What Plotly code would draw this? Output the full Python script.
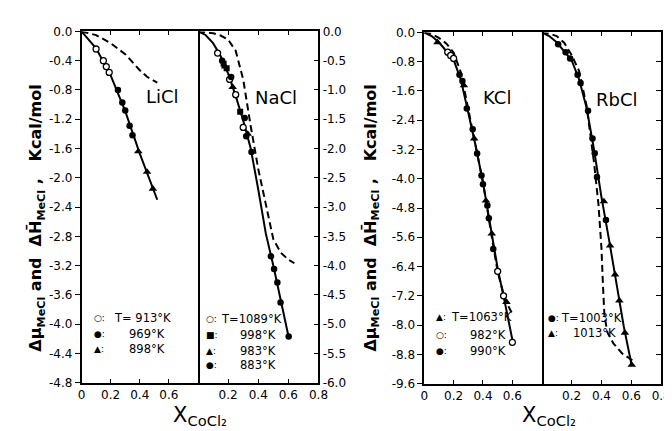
import plotly.graph_objects as go

W, H = 672, 431

# ---------------- data ----------------
# LiCl
li_line_x = [0, 0.1, 0.2, 0.3, 0.4, 0.52]
li_line_y = [0, -0.23, -0.6, -1.09, -1.67, -2.3]
li_dash_x = [0, 0.1, 0.2, 0.3, 0.35, 0.4, 0.45, 0.52]
li_dash_y = [0, -0.05, -0.16, -0.31, -0.42, -0.53, -0.62, -0.70]
li_913_x = [0.10, 0.15, 0.17, 0.19]
li_913_y = [-0.24, -0.40, -0.48, -0.56]
li_969_x = [0.25, 0.28, 0.30, 0.33, 0.35]
li_969_y = [-0.80, -0.97, -1.08, -1.29, -1.42]
li_898_x = [0.39, 0.45, 0.49]
li_898_y = [-1.64, -1.92, -2.15]

# NaCl
na_line_x = [0, 0.05, 0.1, 0.15, 0.2, 0.25, 0.3, 0.35, 0.4, 0.45, 0.5, 0.55, 0.6]
na_line_y = [0, -0.06, -0.2, -0.42, -0.72, -1.1, -1.52, -2.0, -2.7, -3.45, -4.0, -4.63, -5.2]
na_dash_x = [0, 0.1, 0.15, 0.2, 0.25, 0.3, 0.35, 0.4, 0.45, 0.5, 0.55, 0.6, 0.64]
na_dash_y = [0, -0.03, -0.07, -0.14, -0.33, -0.82, -1.62, -2.35, -2.95, -3.55, -3.78, -3.9, -3.96]
na_1089_x = [0.13, 0.21, 0.25, 0.30]
na_1089_y = [-0.37, -0.82, -1.08, -1.64]
na_998_x = [0.17, 0.19, 0.28]
na_998_y = [-0.55, -0.63, -1.37]
na_983_x = [0.18, 0.23, 0.33]
na_983_y = [-0.60, -0.95, -1.75]
na_883_x = [0.16, 0.22, 0.31, 0.32, 0.355, 0.484, 0.505, 0.527, 0.548, 0.602]
na_883_y = [-0.50, -0.78, -1.48, -1.79, -2.06, -3.84, -4.06, -4.29, -4.63, -5.21]

# KCl
k_line_x = [0, 0.05, 0.1, 0.15, 0.2, 0.25, 0.3, 0.35, 0.4, 0.45, 0.5, 0.55, 0.6]
k_line_y = [0, -0.1, -0.27, -0.5, -0.75, -1.3, -2.2, -3.1, -4.1, -5.3, -6.45, -7.4, -8.4]
k_dash_x = [0, 0.05, 0.1, 0.15, 0.2, 0.25, 0.3, 0.35, 0.4, 0.45, 0.5, 0.55, 0.6]
k_dash_y = [0, -0.04, -0.15, -0.3, -0.55, -1.1, -2.1, -3.1, -4.1, -5.35, -6.55, -7.3, -7.7]
k_1063_x = [0.09, 0.27, 0.34, 0.42, 0.46, 0.56]
k_1063_y = [-0.27, -1.45, -2.9, -4.6, -5.5, -7.37]
k_982_x = [0.16, 0.18, 0.20, 0.50, 0.54, 0.60]
k_982_y = [-0.54, -0.63, -0.71, -6.53, -7.2, -8.47]
k_990_x = [0.24, 0.26, 0.29, 0.33, 0.36, 0.39, 0.40, 0.43, 0.44, 0.47]
k_990_y = [-1.16, -1.33, -2.08, -2.65, -3.31, -3.91, -4.15, -4.73, -5.08, -5.92]

# RbCl
rb_line_x = [0, 0.05, 0.1, 0.15, 0.2, 0.25, 0.3, 0.35, 0.4, 0.45, 0.5, 0.55, 0.6]
rb_line_y = [0, -0.1, -0.27, -0.5, -0.76, -1.28, -2.05, -3.2, -4.5, -5.65, -6.85, -8.05, -9.05]
rb_dash_x = [0, 0.05, 0.1, 0.15, 0.2, 0.25, 0.3, 0.35, 0.38, 0.4, 0.41, 0.42, 0.44, 0.48, 0.54, 0.62]
rb_dash_y = [0, -0.03, -0.1, -0.28, -0.62, -1.05, -2.0, -3.55, -4.7, -5.9, -6.9, -7.75, -8.2, -8.5, -8.78, -9.0]
rb_1003_x = [0.11, 0.16, 0.19, 0.24, 0.26, 0.31, 0.34, 0.355, 0.37, 0.43]
rb_1003_y = [-0.32, -0.54, -0.71, -1.16, -1.38, -2.14, -2.9, -3.3, -3.95, -5.13]
rb_1013_x = [0.416, 0.458, 0.491, 0.52, 0.557, 0.603]
rb_1013_y = [-4.62, -5.83, -6.62, -7.33, -8.21, -9.09]

# tick labels
left_y_vals = [-0.4 * i for i in range(13)]
left_y_text = ["0.0", "-0.4", "-0.8", "-1.2", "-1.6", "-2.0", "-2.4", "-2.8",
               "-3.2", "-3.6", "-4.0", "-4.4", "-4.8"]
na_y_vals = [-0.5 * i for i in range(13)]
na_y_text = ["0.0", "-0.5", "-1.0", "-1.5", "-2.0", "-2.5", "-3.0", "-3.5",
             "-4.0", "-4.5", "-5.0", "-5.5", "-6.0"]
k_y_vals = [-0.8 * i for i in range(13)]
k_y_text = ["0.0", "-0.8", "-1.6", "-2.4", "-3.2", "-4.0", "-4.8", "-5.6",
            "-6.4", "-7.2", "-8.0", "-8.8", "-9.6"]
x_left_vals = [0, 0.2, 0.4, 0.6]
x_left_text = ["0", "0.2", "0.4", "0.6"]
x_right_vals = [0.2, 0.4, 0.6, 0.8]
x_right_text = ["0.2", "0.4", "0.6", "0.8"]

# ---------------- figure ----------------
FONT = "DejaVu Sans"
fig = go.Figure()

def add_panel(k, lx, ly, dx, dy, marker_sets):
    xa = "x" if k == 1 else f"x{k}"
    ya = "y" if k == 1 else f"y{k}"
    fig.add_trace(go.Scatter(x=dx, y=dy, mode="lines", xaxis=xa, yaxis=ya,
                             line=dict(color="black", width=2, dash="7px,4px"),
                             showlegend=False, hoverinfo="skip"))
    fig.add_trace(go.Scatter(x=lx, y=ly, mode="lines", xaxis=xa, yaxis=ya,
                             line=dict(color="black", width=2),
                             showlegend=False, hoverinfo="skip"))
    for mx, my, kind in marker_sets:
        if kind == "open":
            m = dict(symbol="circle", size=6, color="white", line=dict(color="black", width=1.3))
        elif kind == "fill":
            m = dict(symbol="circle", size=6.5, color="black")
        elif kind == "tri":
            m = dict(symbol="triangle-up", size=7.5, color="black")
        else:
            m = dict(symbol="square", size=6, color="black")
        fig.add_trace(go.Scatter(x=mx, y=my, mode="markers", xaxis=xa, yaxis=ya,
                                 marker=m, showlegend=False, hoverinfo="skip"))

add_panel(1, li_line_x, li_line_y, li_dash_x, li_dash_y,
          [(li_913_x, li_913_y, "open"), (li_969_x, li_969_y, "fill"), (li_898_x, li_898_y, "tri")])
add_panel(2, na_line_x, na_line_y, na_dash_x, na_dash_y,
          [(na_1089_x, na_1089_y, "open"), (na_998_x, na_998_y, "sq"),
           (na_983_x, na_983_y, "tri"), (na_883_x, na_883_y, "fill")])
add_panel(3, k_line_x, k_line_y, k_dash_x, k_dash_y,
          [(k_1063_x, k_1063_y, "tri"), (k_982_x, k_982_y, "open"), (k_990_x, k_990_y, "fill")])
add_panel(4, rb_line_x, rb_line_y, rb_dash_x, rb_dash_y,
          [(rb_1003_x, rb_1003_y, "fill"), (rb_1013_x, rb_1013_y, "tri")])

def px_x(a, b):
    return [a / W, b / W]

def px_y(top, bottom):
    return [1 - bottom / H, 1 - top / H]

tickfont = dict(family=FONT, size=12, color="black")
common_x = dict(range=[0, 0.8], showgrid=False, zeroline=False, showline=True,
                linecolor="black", linewidth=1.5, mirror="ticks", ticks="inside",
                ticklen=4, tickwidth=1.3, tickcolor="black", tickfont=tickfont)
common_y = dict(showgrid=False, zeroline=False, showline=True, linecolor="black",
                linewidth=1.5, tickwidth=1.3, tickcolor="black",
                ticklen=5, tickfont=tickfont)

layout_axes = dict(
    xaxis=dict(common_x, domain=px_x(71, 190), anchor="y",
               tickvals=x_left_vals, ticktext=x_left_text),
    xaxis2=dict(common_x, domain=px_x(190, 313), anchor="y2",
                tickvals=x_right_vals, ticktext=x_right_text),
    xaxis3=dict(common_x, domain=px_x(421, 541), anchor="y3",
                tickvals=x_left_vals, ticktext=x_left_text),
    xaxis4=dict(common_x, domain=px_x(541, 663), anchor="y4",
                tickvals=x_right_vals, ticktext=x_right_text),
    yaxis=dict(common_y, domain=px_y(17, 380), anchor="x", range=[-4.8, 0], mirror=True,
               side="left", ticks="outside", tickvals=left_y_vals, ticktext=left_y_text),
    yaxis2=dict(common_y, domain=px_y(17, 380), anchor="x2", range=[-6.0, 0], mirror=False,
                side="right", ticks="inside", tickvals=na_y_vals, ticktext=na_y_text),
    yaxis3=dict(common_y, domain=px_y(18, 381), anchor="x3", range=[-9.6, 0], mirror=True,
                side="left", ticks="outside", tickvals=k_y_vals, ticktext=k_y_text),
    yaxis4=dict(common_y, domain=px_y(18, 381), anchor="x4", range=[-9.6, 0], mirror=False,
                side="right", ticks="inside", tickvals=k_y_vals, showticklabels=False),
)

ann = []

def A(x, y, text, size=12, xanchor="center", angle=0):
    ann.append(dict(x=x / W, y=1 - y / H, xref="paper", yref="paper", text=text,
                    showarrow=False, xanchor=xanchor, yanchor="middle", textangle=angle,
                    font=dict(family=FONT, size=size, color="black")))

# panel names
A(154, 84, "LiCl", 18)
A(270, 85, "NaCl", 18)
A(495, 85, "KCl", 18)
A(618, 87, "RbCl", 18)

# y titles
ytitle = "<b>Δμ<sub>MeCl</sub> and  ΔH̄<sub>MeCl</sub> ,   Kcal/mol</b>"
A(25, 210, ytitle, 16, angle=-90)
A(367, 210, ytitle, 16, angle=-90)

# x titles
xtitle = "X<sub>CoCl₂</sub>"
A(192, 414, xtitle, 21)
A(548, 414, xtitle, 21)

# legends
A(82, 313, "○:", 9, "left"); A(102, 313, "T= 913°K", 11.5, "left")
A(82, 330, "●:", 9, "left"); A(158, 330, "969°K", 11.5, "right")
A(82, 345, "▲:", 9, "left"); A(158, 345, "898°K", 11.5, "right")

A(196, 314, "○:", 9, "left"); A(211, 314, "T=1089°K", 11.5, "left")
A(196, 331, "■:", 9, "left"); A(272, 331, "998°K", 11.5, "right")
A(196, 347, "▲:", 9, "left"); A(272, 347, "983°K", 11.5, "right")
A(196, 362, "●:", 9, "left"); A(272, 362, "883°K", 11.5, "right")

A(431, 312, "▲:", 9, "left"); A(446, 312, "T=1063°K", 11.5, "left")
A(431, 331, "○:", 9, "left"); A(507, 331, "982°K", 11.5, "right")
A(431, 347, "●:", 9, "left"); A(507, 347, "990°K", 11.5, "right")

A(545, 313, "●:", 9, "left"); A(559, 313, "T=1003°K", 11.5, "left")
A(545, 329, "▲:", 9, "left"); A(619, 329, "1013°K", 11.5, "right")

fig.update_layout(
    width=W, height=H, margin=dict(l=0, r=0, t=0, b=0),
    paper_bgcolor="white", plot_bgcolor="white",
    font=dict(family=FONT, color="black"),
    annotations=ann, **layout_axes,
)

fig.write_html("out.html")
